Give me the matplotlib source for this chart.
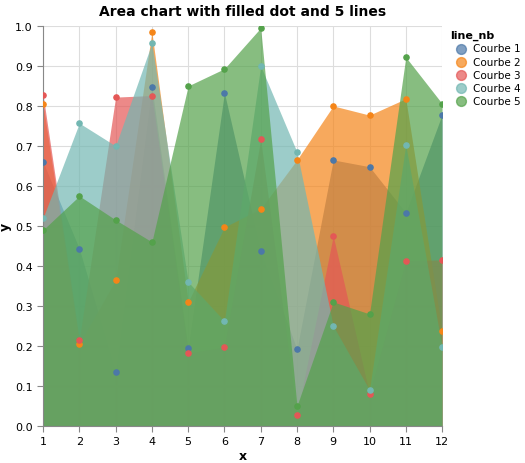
import matplotlib.pyplot as plt

x = list(range(1, 13))
courbe1 = [0.66, 0.443, 0.135, 0.848, 0.195, 0.833, 0.437, 0.192, 0.665, 0.648, 0.533, 0.778]
courbe2 = [0.805, 0.205, 0.365, 0.985, 0.31, 0.497, 0.543, 0.665, 0.80, 0.777, 0.818, 0.237]
courbe3 = [0.828, 0.215, 0.822, 0.826, 0.182, 0.197, 0.717, 0.027, 0.475, 0.08, 0.413, 0.415]
courbe4 = [0.52, 0.757, 0.70, 0.957, 0.36, 0.262, 0.90, 0.685, 0.25, 0.09, 0.703, 0.198]
courbe5 = [0.49, 0.575, 0.515, 0.46, 0.85, 0.893, 0.995, 0.05, 0.31, 0.28, 0.922, 0.806]
names = ["Courbe 1", "Courbe 2", "Courbe 3", "Courbe 4", "Courbe 5"]
series = [courbe1, courbe2, courbe3, courbe4, courbe5]
colors = ["#4c78a8", "#f58518", "#e45756", "#72b7b2", "#54a24b"]

fig = plt.figure(figsize=(5.25, 4.64), dpi=100)
ax = fig.add_axes([0.082, 0.080, 0.760, 0.862])

for name, ys, c in zip(names, series, colors):
    ax.fill_between(x, 0, ys, color=c, alpha=0.7, linewidth=0)
for name, ys, c in zip(names, series, colors):
    ax.scatter(x, ys, color=c, s=14, zorder=3, label=name)

ax.set_xlim(1, 12)
ax.set_ylim(0, 1)
ax.set_xticks(x)
ax.set_yticks([i / 10 for i in range(11)])
ax.set_yticklabels([f"{i / 10:.1f}" for i in range(11)])
ax.tick_params(labelsize=8, color="#888888", length=4)
ax.grid(True, color="#dddddd", linewidth=0.8)
ax.set_axisbelow(True)
for s in ["top", "right"]:
    ax.spines[s].set_visible(False)
for s in ["left", "bottom"]:
    ax.spines[s].set_color("#888888")
ax.set_xlabel("x", fontsize=9, fontweight="bold", labelpad=2)
ax.set_ylabel("y", fontsize=9, fontweight="bold", labelpad=2)
ax.set_title("Area chart with filled dot and 5 lines", fontsize=10, fontweight="bold", pad=8)

leg = ax.legend(loc="upper left", bbox_to_anchor=(1.01, 1.0), frameon=False,
                title="line_nb", fontsize=7.5, title_fontsize=8,
                handletextpad=0.2, borderaxespad=0, labelspacing=0.3, alignment="left")
leg.get_title().set_fontweight("bold")
for h in leg.legend_handles:
    h.set_alpha(0.7)
    h.set_sizes([50])

fig.savefig("out.png", dpi=100)
